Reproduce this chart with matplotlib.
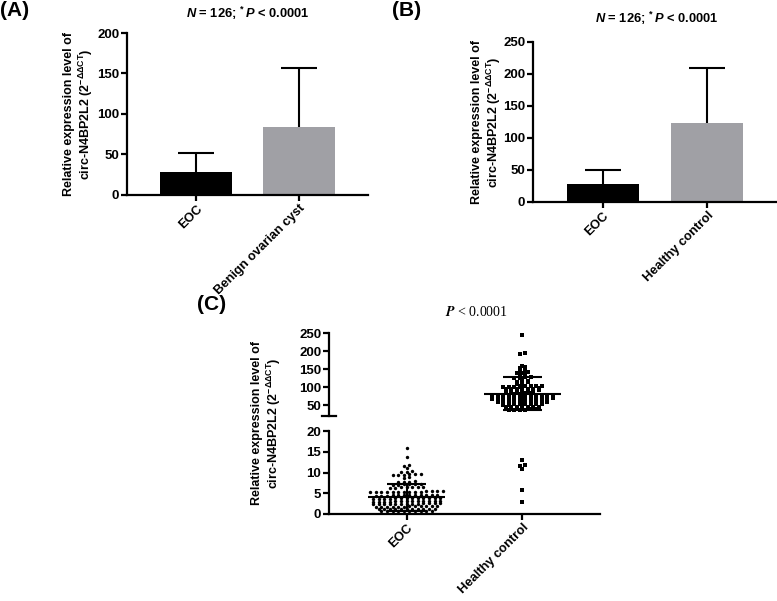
import numpy as np
import matplotlib
matplotlib.use('Agg')
import matplotlib.pyplot as plt

plt.rcParams['font.family'] = 'Liberation Sans'
plt.rcParams['font.weight'] = 'bold'
plt.rcParams['mathtext.fontset'] = 'custom'
plt.rcParams['mathtext.rm'] = 'Liberation Sans'
plt.rcParams['mathtext.it'] = 'Liberation Sans:italic:bold'
plt.rcParams['mathtext.bf'] = 'Liberation Sans:bold'

# (A) and (B): mean with upper SD
groups_a = ['EOC', 'Benign ovarian cyst']
means_a = [28, 84.5]
sd_a = [23.5, 72]

groups_b = ['EOC', 'Healthy control']
means_b = [28.5, 124]
sd_b = [22, 86]

# (C): individual values
groups_c = ['EOC', 'Healthy control']
eoc_values = [
    16.0, 13.8, 11.8, 11.6, 11.0, 10.3, 10.1, 10.2,
    9.6, 9.5, 9.7, 9.4, 9.5, 9.6, 8.8, 8.7,
    7.9, 7.8, 7.7, 7.8, 7.2, 7.3, 7.1, 7.2, 7.3, 7.1,
    6.5, 6.4, 6.3, 6.5, 6.4, 6.3, 6.4,
    5.5, 5.4, 5.3, 5.4, 5.5, 5.3, 5.4, 5.4, 5.5, 5.3, 5.4, 5.5, 5.3, 5.4,
    4.6, 4.5, 4.4, 4.6, 4.5, 4.4, 4.6, 4.5, 4.5, 4.4, 4.6, 4.5,
    3.9, 3.8, 3.7, 3.8, 3.9, 3.7, 3.8, 3.8, 3.9, 3.7, 3.8, 3.9, 3.7,
    3.2, 3.1, 3.0, 3.1, 3.2, 3.0, 3.1, 3.1, 3.2, 3.0, 3.1, 3.2, 3.0,
    2.6, 2.5, 2.4, 2.5, 2.6, 2.4, 2.5, 2.5, 2.6, 2.4, 2.5, 2.6, 2.4,
    1.9, 1.8, 1.9, 1.8, 1.9, 1.8, 1.9, 1.8, 1.9, 1.8, 1.9, 1.8,
    1.3, 1.2, 1.3, 1.2, 1.3, 1.2, 1.3, 1.2, 1.3, 1.2, 1.3,
    0.8, 0.7, 0.8, 0.7, 0.8, 0.7, 0.8, 0.7, 0.8, 0.7,
]
healthy_values = [
    245, 194, 191, 159, 156, 152,
    146, 143, 141, 140, 138, 135, 133,
    128, 127, 125, 124, 118, 117, 115, 114, 112, 110,
    104, 103, 103, 102, 101, 101, 100, 99, 104, 102,
    96, 95, 97, 96, 95, 94, 96,
    90, 89, 91, 90, 88, 89, 90,
    84, 83, 82, 81,
    76, 75, 74, 75, 76, 74, 75, 73, 76, 75, 74, 75,
    68, 67, 66, 68, 67, 69, 66, 67, 68, 67, 66, 68,
    60, 59, 58, 60, 59, 58, 60, 59, 58, 59,
    53, 52, 51, 52, 53, 51, 52, 52,
    46, 45, 44, 46, 45, 44, 45,
    39, 38, 37, 38, 39, 37,
    13.0, 11.7, 11.5, 10.9, 5.8, 3.0,
]
eoc_mean, eoc_sd = 4.0, 3.2
healthy_mean, healthy_sd = 82, 46

W, H = 777, 601
fig = plt.figure(figsize=(W / 100, H / 100), dpi=100)


def add_axes_px(left, top, right, bottom):
    return fig.add_axes([left / W, 1 - bottom / H, (right - left) / W, (bottom - top) / H])


def style(ax):
    ax.spines['top'].set_visible(False)
    ax.spines['right'].set_visible(False)
    ax.spines['left'].set_linewidth(1.6)
    ax.spines['bottom'].set_linewidth(1.6)
    ax.tick_params(width=1.6, length=4, labelsize=9.5, pad=1.5)
    ax.tick_params(axis='x', labelsize=9.3)


def bar_panel(ax, groups, means, sds, ymax, step):
    x = np.arange(len(groups))
    top = np.array(means) + np.array(sds)
    ax.bar(x, means, width=0.69, color=['black', '#a0a0a5'], zorder=2)
    # upper SD only
    ax.vlines(x, means, top, color='black', lw=1.5, zorder=1)
    ax.hlines(top, x - 0.17, x + 0.17, color='black', lw=1.5, zorder=1)
    ax.set_xlim(-0.67, 1.67)
    ax.set_ylim(0, ymax)
    ax.set_yticks(np.arange(0, ymax + 1, step))
    ax.set_xticks(x)
    ax.set_xticklabels(groups, rotation=45, ha='right', rotation_mode='anchor')
    style(ax)


def row_offsets(values, thr, spacing):
    # GraphPad-like layout: group near-equal values into rows, centre each row
    values = np.asarray(values, dtype=float)
    order = np.argsort(values)
    offs = np.zeros(len(values))
    rows = []
    for i in order:
        if rows and values[i] - values[rows[-1][0]] <= thr:
            rows[-1].append(i)
        else:
            rows.append([i])
    for r in rows:
        k = len(r)
        offs[r] = (np.arange(k) - (k - 1) / 2) * spacing
    return offs


# ---- (A)
ax_a = add_axes_px(127, 33, 368, 195)
bar_panel(ax_a, groups_a, means_a, sd_a, 200, 50)

# ---- (B)
ax_b = add_axes_px(533, 42, 777, 202)
bar_panel(ax_b, groups_b, means_b, sd_b, 250, 50)

# ---- (C) broken axis
ax_up = add_axes_px(329, 333, 600, 416)
ax_lo = add_axes_px(329, 431, 600, 514)
for ax in (ax_up, ax_lo):
    style(ax)
    ax.set_xlim(-0.67, 1.67)
ax_up.set_ylim(20, 250)
ax_up.set_yticks([50, 100, 150, 200, 250])
ax_up.spines['bottom'].set_visible(False)
ax_up.set_xticks([])
ax_up.plot([-0.025, 0.025], [20, 20], transform=ax_up.get_yaxis_transform(),
           clip_on=False, color='black', lw=1.6)
ax_lo.set_ylim(0, 20)
ax_lo.set_yticks([0, 5, 10, 15, 20])
ax_lo.set_xticks([0, 1])
ax_lo.set_xticklabels(groups_c, rotation=45, ha='right', rotation_mode='anchor')

px_x = 271 / 2.34  # px per x unit
eoc = np.array(eoc_values)
hc = np.array(healthy_values)
hc_up = hc[hc >= 20]
hc_lo = hc[hc < 20]

ax_lo.scatter(0 + row_offsets(eoc, 0.3, 5.6) / px_x, eoc, s=6, marker='o',
              color='black', linewidths=0, clip_on=False, zorder=3)
ax_up.scatter(1 + row_offsets(hc_up, 4.5, 5.5) / px_x, hc_up, s=8, marker='s',
              color='black', linewidths=0, clip_on=False, zorder=3)
ax_lo.scatter(1 + row_offsets(hc_lo, 0.3, 5.5) / px_x, hc_lo, s=8, marker='s',
              color='black', linewidths=0, clip_on=False, zorder=3)

for ax, xc, m, sd in ((ax_lo, 0, eoc_mean, eoc_sd), (ax_up, 1, healthy_mean, healthy_sd)):
    ax.hlines(m, xc - 0.33, xc + 0.33, color='black', lw=1.5, zorder=4)
    ax.hlines([m - sd, m + sd], xc - 0.17, xc + 0.17, color='black', lw=1.5, zorder=4)
    ax.vlines(xc, m - sd, m + sd, color='black', lw=1.5, zorder=4)

# ---- labels and titles
ylab = 'Relative expression level of\ncirc-N4BP2L2 (2$^{-\\Delta\\Delta\\mathrm{CT}}$)'
for x, y in ((79, 114), (487, 122), (267, 423)):
    fig.text(x / W, 1 - y / H, ylab, rotation=90, ha='center', va='center',
             multialignment='center', fontsize=9, fontweight='bold', linespacing=1.1)

title_ab = r'$N$ = 126; $^{*}\,P$ < 0.0001'
fig.text(248 / W, 1 - 13 / H, title_ab, ha='center', va='center', fontsize=9.3, fontweight='bold')
fig.text(657 / W, 1 - 18 / H, title_ab, ha='center', va='center', fontsize=9.3, fontweight='bold')
fig.text(477 / W, 1 - 312 / H, r'$P$ < 0.0001', ha='center', va='center', fontsize=10,
         family='Liberation Serif', fontweight='normal', math_fontfamily='stix')

fig.text(0 / W, 1 - 11 / H, '(A)', ha='left', va='center', fontsize=15, fontweight='bold')
fig.text(392 / W, 1 - 11 / H, '(B)', ha='left', va='center', fontsize=15, fontweight='bold')
fig.text(197 / W, 1 - 305 / H, '(C)', ha='left', va='center', fontsize=15, fontweight='bold')

fig.savefig('out.png', dpi=100)
